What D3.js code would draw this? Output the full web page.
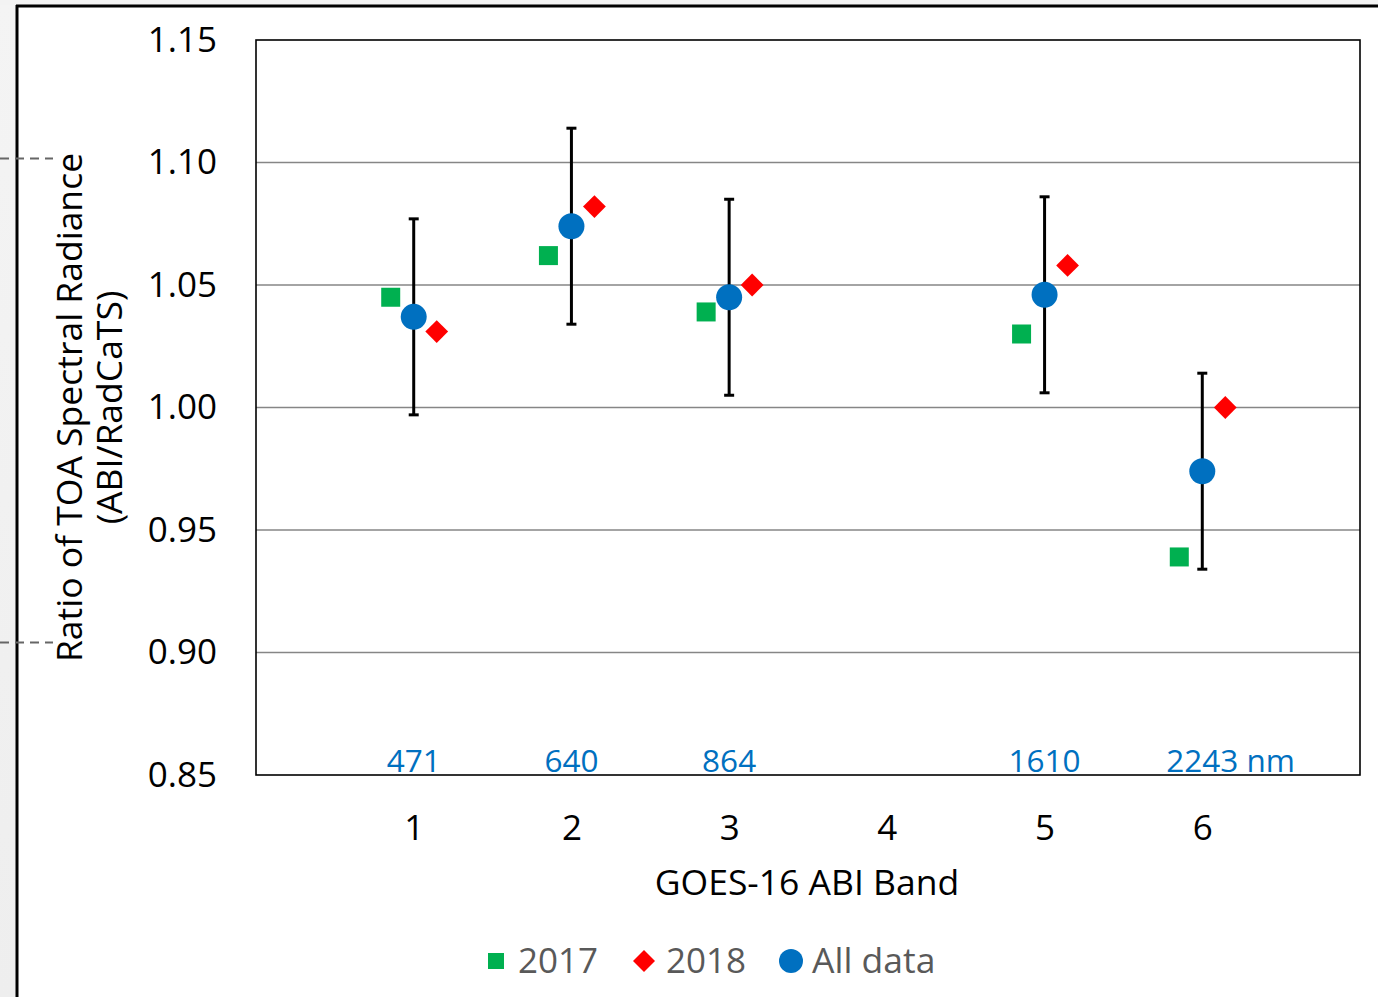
<!DOCTYPE html>
<html>
<head>
<meta charset="utf-8">
<script src="https://cdn.jsdelivr.net/npm/d3@7"></script>
<style>
  html, body { margin: 0; padding: 0; background: #fff; }
  svg { display: block; font-family: "Open Sans", sans-serif; }
</style>
</head>
<body>
<svg id="chart" width="1378" height="997"></svg>
<script>
// ABI band numbers and their centre wavelengths (nm)
const bands = [1, 2, 3, 4, 5, 6];
const wavelengths = [471, 640, 864, null, 1610, 2243];

// Ratio of TOA spectral radiance (ABI / RadCaTS)
const ratio2017 = [1.045, 1.062, 1.039, null, 1.030, 0.939];
const ratio2018 = [1.031, 1.082, 1.050, null, 1.058, 1.000];
const ratioAll  = [1.037, 1.074, 1.045, null, 1.046, 0.974];
const errorAll  = [0.040, 0.040, 0.040, null, 0.040, 0.040];

const yTicks = [0.85, 0.90, 0.95, 1.00, 1.05, 1.10, 1.15];
const legendItems = ["2017", "2018", "All data"];

const colors = { y2017: "#00B050", y2018: "#FF0000", all: "#0070C0" };

const svg = d3.select("#chart");
const W = 1378, H = 997;
const plot = { left: 256, right: 1360, top: 40, bottom: 775 };

// slide-style frame: grey margin strips and black edge lines
const bgGrad = svg.append("defs").append("linearGradient")
  .attr("id", "strip").attr("x1", 0).attr("y1", 0).attr("x2", 0).attr("y2", 1);
bgGrad.append("stop").attr("offset", "0%").attr("stop-color", "#f4f4f4");
bgGrad.append("stop").attr("offset", "100%").attr("stop-color", "#eeeeee");
svg.append("rect").attr("x", 0).attr("y", 0).attr("width", 16).attr("height", H).attr("fill", "url(#strip)");
svg.append("rect").attr("x", 0).attr("y", 0).attr("width", W).attr("height", 5).attr("fill", "#f3f3f3");
svg.append("line").attr("x1", 17).attr("x2", 17).attr("y1", 5).attr("y2", H)
  .attr("stroke", "#000").attr("stroke-width", 3);
svg.append("line").attr("x1", 16).attr("x2", W).attr("y1", 6).attr("y2", 6)
  .attr("stroke", "#000").attr("stroke-width", 3);

const x = d3.scaleLinear().domain([0, 7]).range([plot.left, plot.right]);
const y = d3.scaleLinear().domain([0.85, 1.15]).range([plot.bottom, plot.top]);

// dashed leader lines on the left margin
[158.5, 642.5].forEach(yy => {
  svg.append("line").attr("x1", 0).attr("x2", 53)
    .attr("y1", yy).attr("y2", yy)
    .attr("stroke", "#666").attr("stroke-width", 2).attr("stroke-dasharray", "9,6");
});

// horizontal gridlines
svg.append("g").selectAll("line")
  .data(yTicks.filter(v => v > 0.85 && v < 1.15))
  .join("line")
  .attr("x1", plot.left).attr("x2", plot.right)
  .attr("y1", d => y(d)).attr("y2", d => y(d))
  .attr("stroke", "#868686").attr("stroke-width", 1.5);

// plot frame
svg.append("rect")
  .attr("x", plot.left).attr("y", plot.top)
  .attr("width", plot.right - plot.left).attr("height", plot.bottom - plot.top)
  .attr("fill", "none").attr("stroke", "#000").attr("stroke-width", 1.6);

// y axis
const yAxis = svg.append("g").attr("transform", `translate(${plot.left},0)`)
  .call(d3.axisLeft(y).tickValues(yTicks).tickFormat(d3.format(".2f")).tickSize(0).tickPadding(39));
yAxis.select(".domain").remove();
yAxis.selectAll("text").attr("font-size", 35).attr("fill", "#000")
  .attr("font-family", "Open Sans, sans-serif");

// x axis
const xAxis = svg.append("g").attr("transform", `translate(0,${plot.bottom})`)
  .call(d3.axisBottom(x).tickValues(bands).tickFormat(d3.format("d")).tickSize(0));
xAxis.select(".domain").remove();
xAxis.selectAll("text").attr("font-size", 35).attr("fill", "#000")
  .attr("y", 53).attr("dy", "0.35em").attr("font-family", "Open Sans, sans-serif");

// axis titles
svg.append("text")
  .attr("transform", `translate(82,${(plot.top + plot.bottom) / 2}) rotate(-90)`)
  .attr("text-anchor", "middle").attr("font-size", 35.5).attr("fill", "#000")
  .text("Ratio of TOA Spectral Radiance");
svg.append("text")
  .attr("transform", `translate(122,${(plot.top + plot.bottom) / 2}) rotate(-90)`)
  .attr("text-anchor", "middle").attr("font-size", 35.5).attr("fill", "#000")
  .text("(ABI/RadCaTS)");
svg.append("text")
  .attr("x", 807).attr("y", 895)
  .attr("text-anchor", "middle").attr("font-size", 35.5).attr("fill", "#000")
  .text("GOES-16 ABI Band");

// wavelength labels along the bottom of the plot
const wl = svg.append("g").selectAll("text")
  .data(bands.map((b, i) => ({ b, w: wavelengths[i], last: i === bands.length - 1 })).filter(d => d.w !== null))
  .join("text")
  .attr("y", plot.bottom - 3)
  .attr("font-size", 31.5).attr("fill", colors.all)
  .attr("text-anchor", "start")
  .text(d => d.last ? `${d.w} nm` : `${d.w}`);
// centre the numeric part of each label on its band
wl.each(function (d) {
  const t = d3.select(this);
  const probe = svg.append("text").attr("font-size", 31.5).text(`${d.w}`);
  const wNum = probe.node().getComputedTextLength();
  probe.remove();
  t.attr("x", x(d.b) - wNum / 2);
});

// error bars for the all-data means
const errG = svg.append("g");
bands.forEach((b, i) => {
  if (ratioAll[i] === null) return;
  const cx = x(b), top = y(ratioAll[i] + errorAll[i]), bot = y(ratioAll[i] - errorAll[i]);
  errG.append("line").attr("x1", cx).attr("x2", cx).attr("y1", top).attr("y2", bot)
    .attr("stroke", "#000").attr("stroke-width", 3);
  [top, bot].forEach(yy => errG.append("line")
    .attr("x1", cx - 5).attr("x2", cx + 5).attr("y1", yy).attr("y2", yy)
    .attr("stroke", "#000").attr("stroke-width", 3));
});

const offset = 23;
const pts = (arr) => bands.map((b, i) => ({ b, v: arr[i] })).filter(d => d.v !== null);

// 2017 squares
svg.append("g").selectAll("rect").data(pts(ratio2017)).join("rect")
  .attr("x", d => x(d.b) - offset - 9.5).attr("y", d => y(d.v) - 9.5)
  .attr("width", 19).attr("height", 19).attr("fill", colors.y2017);

// 2018 diamonds
svg.append("g").selectAll("path").data(pts(ratio2018)).join("path")
  .attr("d", d3.symbol(d3.symbolSquare, 260))
  .attr("transform", d => `translate(${x(d.b) + offset},${y(d.v)}) rotate(45)`)
  .attr("fill", colors.y2018);

// all-data circles
svg.append("g").selectAll("circle").data(pts(ratioAll)).join("circle")
  .attr("cx", d => x(d.b)).attr("cy", d => y(d.v)).attr("r", 13)
  .attr("fill", colors.all);

// legend
const lg = svg.append("g");
const lgY = 961;
lg.append("rect").attr("x", 488).attr("y", lgY - 8).attr("width", 16).attr("height", 16).attr("fill", colors.y2017);
lg.append("text").attr("x", 518).attr("y", lgY).attr("dy", "0.35em").attr("font-size", 35).attr("fill", "#595959").text(legendItems[0]);
lg.append("path").attr("d", d3.symbol(d3.symbolSquare, 243))
  .attr("transform", `translate(644,${lgY}) rotate(45)`).attr("fill", colors.y2018);
lg.append("text").attr("x", 666).attr("y", lgY).attr("dy", "0.35em").attr("font-size", 35).attr("fill", "#595959").text(legendItems[1]);
lg.append("circle").attr("cx", 791).attr("cy", lgY).attr("r", 12).attr("fill", colors.all);
lg.append("text").attr("x", 812).attr("y", lgY).attr("dy", "0.35em").attr("font-size", 35.5).attr("fill", "#595959").text(legendItems[2]);
</script>
</body>
</html>
